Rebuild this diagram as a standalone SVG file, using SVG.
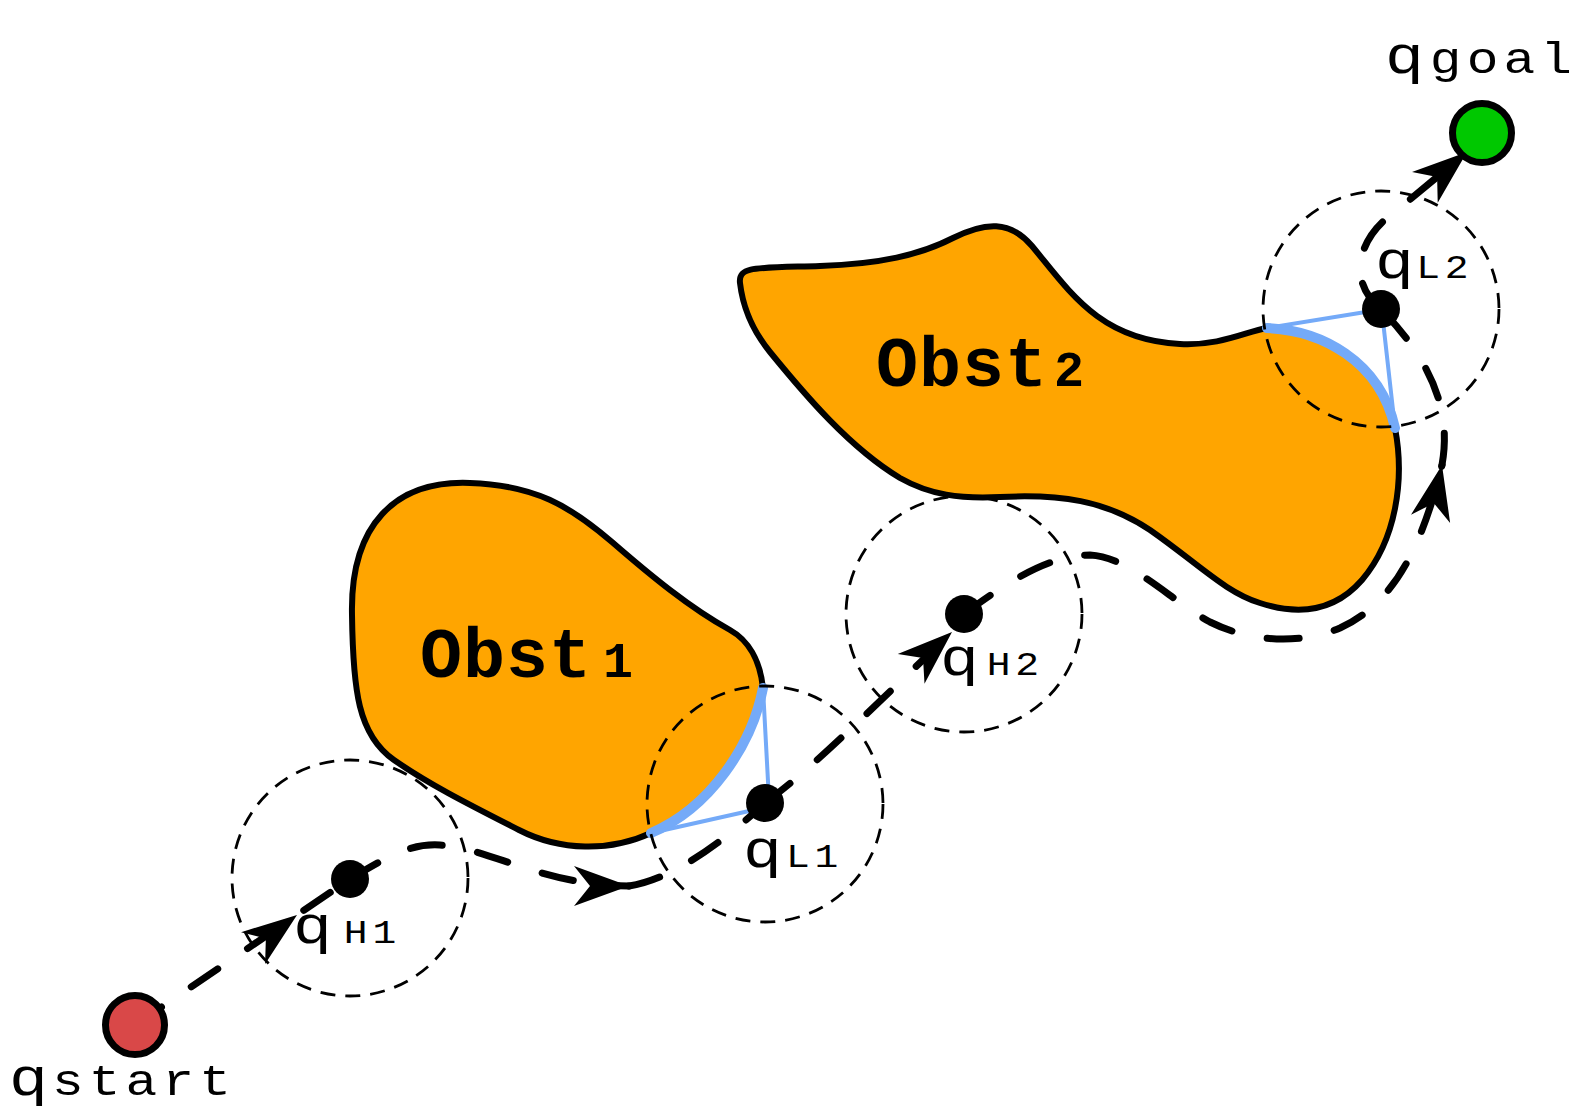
<svg xmlns="http://www.w3.org/2000/svg" xmlns:xlink="http://www.w3.org/1999/xlink" width="1591" height="1120" viewBox="0 0 1591 1120">
<style>
.obst{fill:#ffa500;stroke:#000;stroke-width:6;stroke-linejoin:round}
.bthick{fill:none;stroke:#74aaf8;stroke-width:10;stroke-linecap:round}
.bthin{fill:none;stroke:#74aaf8;stroke-width:4;stroke-linecap:round}
.ring{fill:none;stroke:#000;stroke-width:2.8;stroke-dasharray:15 10}
.dot{fill:#000}
.path{fill:none;stroke:#000;stroke-width:7;stroke-linecap:round;stroke-dasharray:32 36}
.end{stroke:#000;stroke-width:7}
.lbl{font-family:"Liberation Mono","DejaVu Sans Mono",monospace;fill:#000}
.q{font-size:54px}
.sl{font-size:44px;letter-spacing:4.25px}
.su{font-size:33px;letter-spacing:4px}
.ob{font-family:"Liberation Mono","DejaVu Sans Mono",monospace;font-weight:bold;font-size:70px;letter-spacing:1px;fill:#000}
.obs{font-size:50px}
</style>
<defs>
<path id="arr" d="M0 0 L-55 -20 L-39 0 L-55 20 Z" fill="#000"/>
</defs>

<g id="obst1">
<path class="obst" d="M763 688 C760 660 748 640 730 630 C690 608 650 575 612 542 C570 506 535 485 470 483 C395 480 350 525 352 615 C353 690 358 735 394 760 C430 785 470 805 519 830 C560 851 610 852 651 833 C710 808 752 745 763 688 Z"/>
<text class="ob" x="420" y="677">Obst<tspan class="obs" dx="11">1</tspan></text>
</g>

<g id="obst2">
<path class="obst" d="M740 283 C738 266 755 268 820 266 C880 264 920 255 953 238 C985 222 1010 220 1032 246 C1070 292 1100 340 1180 344 C1220 346 1245 332 1267 328 C1320 330 1380 360 1395 428 C1405 480 1396 540 1362 580 C1335 611 1300 616 1260 603 C1225 592 1200 565 1150 530 C1105 500 1060 494 1000 497 C960 499 930 495 900 478 C850 448 805 395 770 352 C748 325 742 300 740 283 Z"/>
<text class="ob" x="876" y="386">Obst<tspan class="obs" dx="6">2</tspan></text>
</g>

<g id="free-space">
<path class="bthick" d="M651 833 C710 808 752 745 763 688"/>
<path class="bthin" d="M763 688 L769 800 M651 833 L758 809"/>
<path class="bthick" d="M1267 328 C1320 330 1380 360 1395 428"/>
<path class="bthin" d="M1267 328 L1378 310 M1382 312 L1395 428"/>
</g>

<g id="connectors">
<path class="path" d="M135 1025 L350 879"/>
<path class="path" d="M350 879 C385 858 410 843 440 845 C490 848 540 885 629 886"/>
<path class="path" d="M629 886 C670 880 720 845 765 803"/>
<path class="path" d="M765 803 C810 770 860 720 952 632 L964 614"/>
<path class="path" d="M964 614 C1010 580 1050 555 1090 555 C1130 557 1170 600 1210 622 C1250 642 1300 645 1340 628 C1390 605 1420 555 1442 465"/>
<path class="path" d="M1442 465 C1450 420 1440 370 1381 309"/>
<path class="path" d="M1381 309 C1345 280 1360 235 1395 212 L1467 152"/>
<use xlink:href="#arr" transform="translate(297 915) rotate(-37)"/>
<use xlink:href="#arr" transform="translate(629 886)"/>
<use xlink:href="#arr" transform="translate(952 632) rotate(-42)"/>
<use xlink:href="#arr" transform="translate(1442 465) rotate(-78)"/>
<use xlink:href="#arr" transform="translate(1467 152) rotate(-40)"/>
</g>

<g id="node-start">
<circle class="end" cx="135" cy="1025" r="29.5" fill="#d94848"/>
<text class="lbl" transform="translate(9 1095) scale(1.2 1)"><tspan class="q">q</tspan><tspan class="sl" dx="3.5">start</tspan></text>
</g>

<g id="node-H1">
<circle class="ring" cx="350" cy="878" r="118"/>
<circle class="dot" cx="350" cy="879" r="19"/>
<text class="lbl" transform="translate(293 943) scale(1.2 1)"><tspan class="q">q</tspan><tspan class="su" dx="10">H1</tspan></text>
</g>

<g id="node-L1">
<circle class="ring" cx="765" cy="804" r="118"/>
<circle class="dot" cx="765" cy="803" r="19"/>
<text class="lbl" transform="translate(743 867) scale(1.2 1)"><tspan class="q">q</tspan><tspan class="su" dx="3.5">L1</tspan></text>
</g>

<g id="node-H2">
<circle class="ring" cx="964" cy="614" r="118"/>
<circle class="dot" cx="964" cy="614" r="19"/>
<text class="lbl" transform="translate(940 675) scale(1.2 1)"><tspan class="q">q</tspan><tspan class="su" dx="6.5">H2</tspan></text>
</g>

<g id="node-L2">
<circle class="ring" cx="1381" cy="309" r="118"/>
<circle class="dot" cx="1381" cy="309" r="19"/>
<text class="lbl" transform="translate(1375 278) scale(1.2 1)"><tspan class="q">q</tspan><tspan class="su" dx="2">L2</tspan></text>
</g>

<g id="node-goal">
<circle class="end" cx="1482" cy="133" r="29.5" fill="#00c800"/>
<text class="lbl" transform="translate(1385 73) scale(1.2 1)"><tspan class="q">q</tspan><tspan class="sl" dx="5">goal</tspan></text>
</g>
</svg>
